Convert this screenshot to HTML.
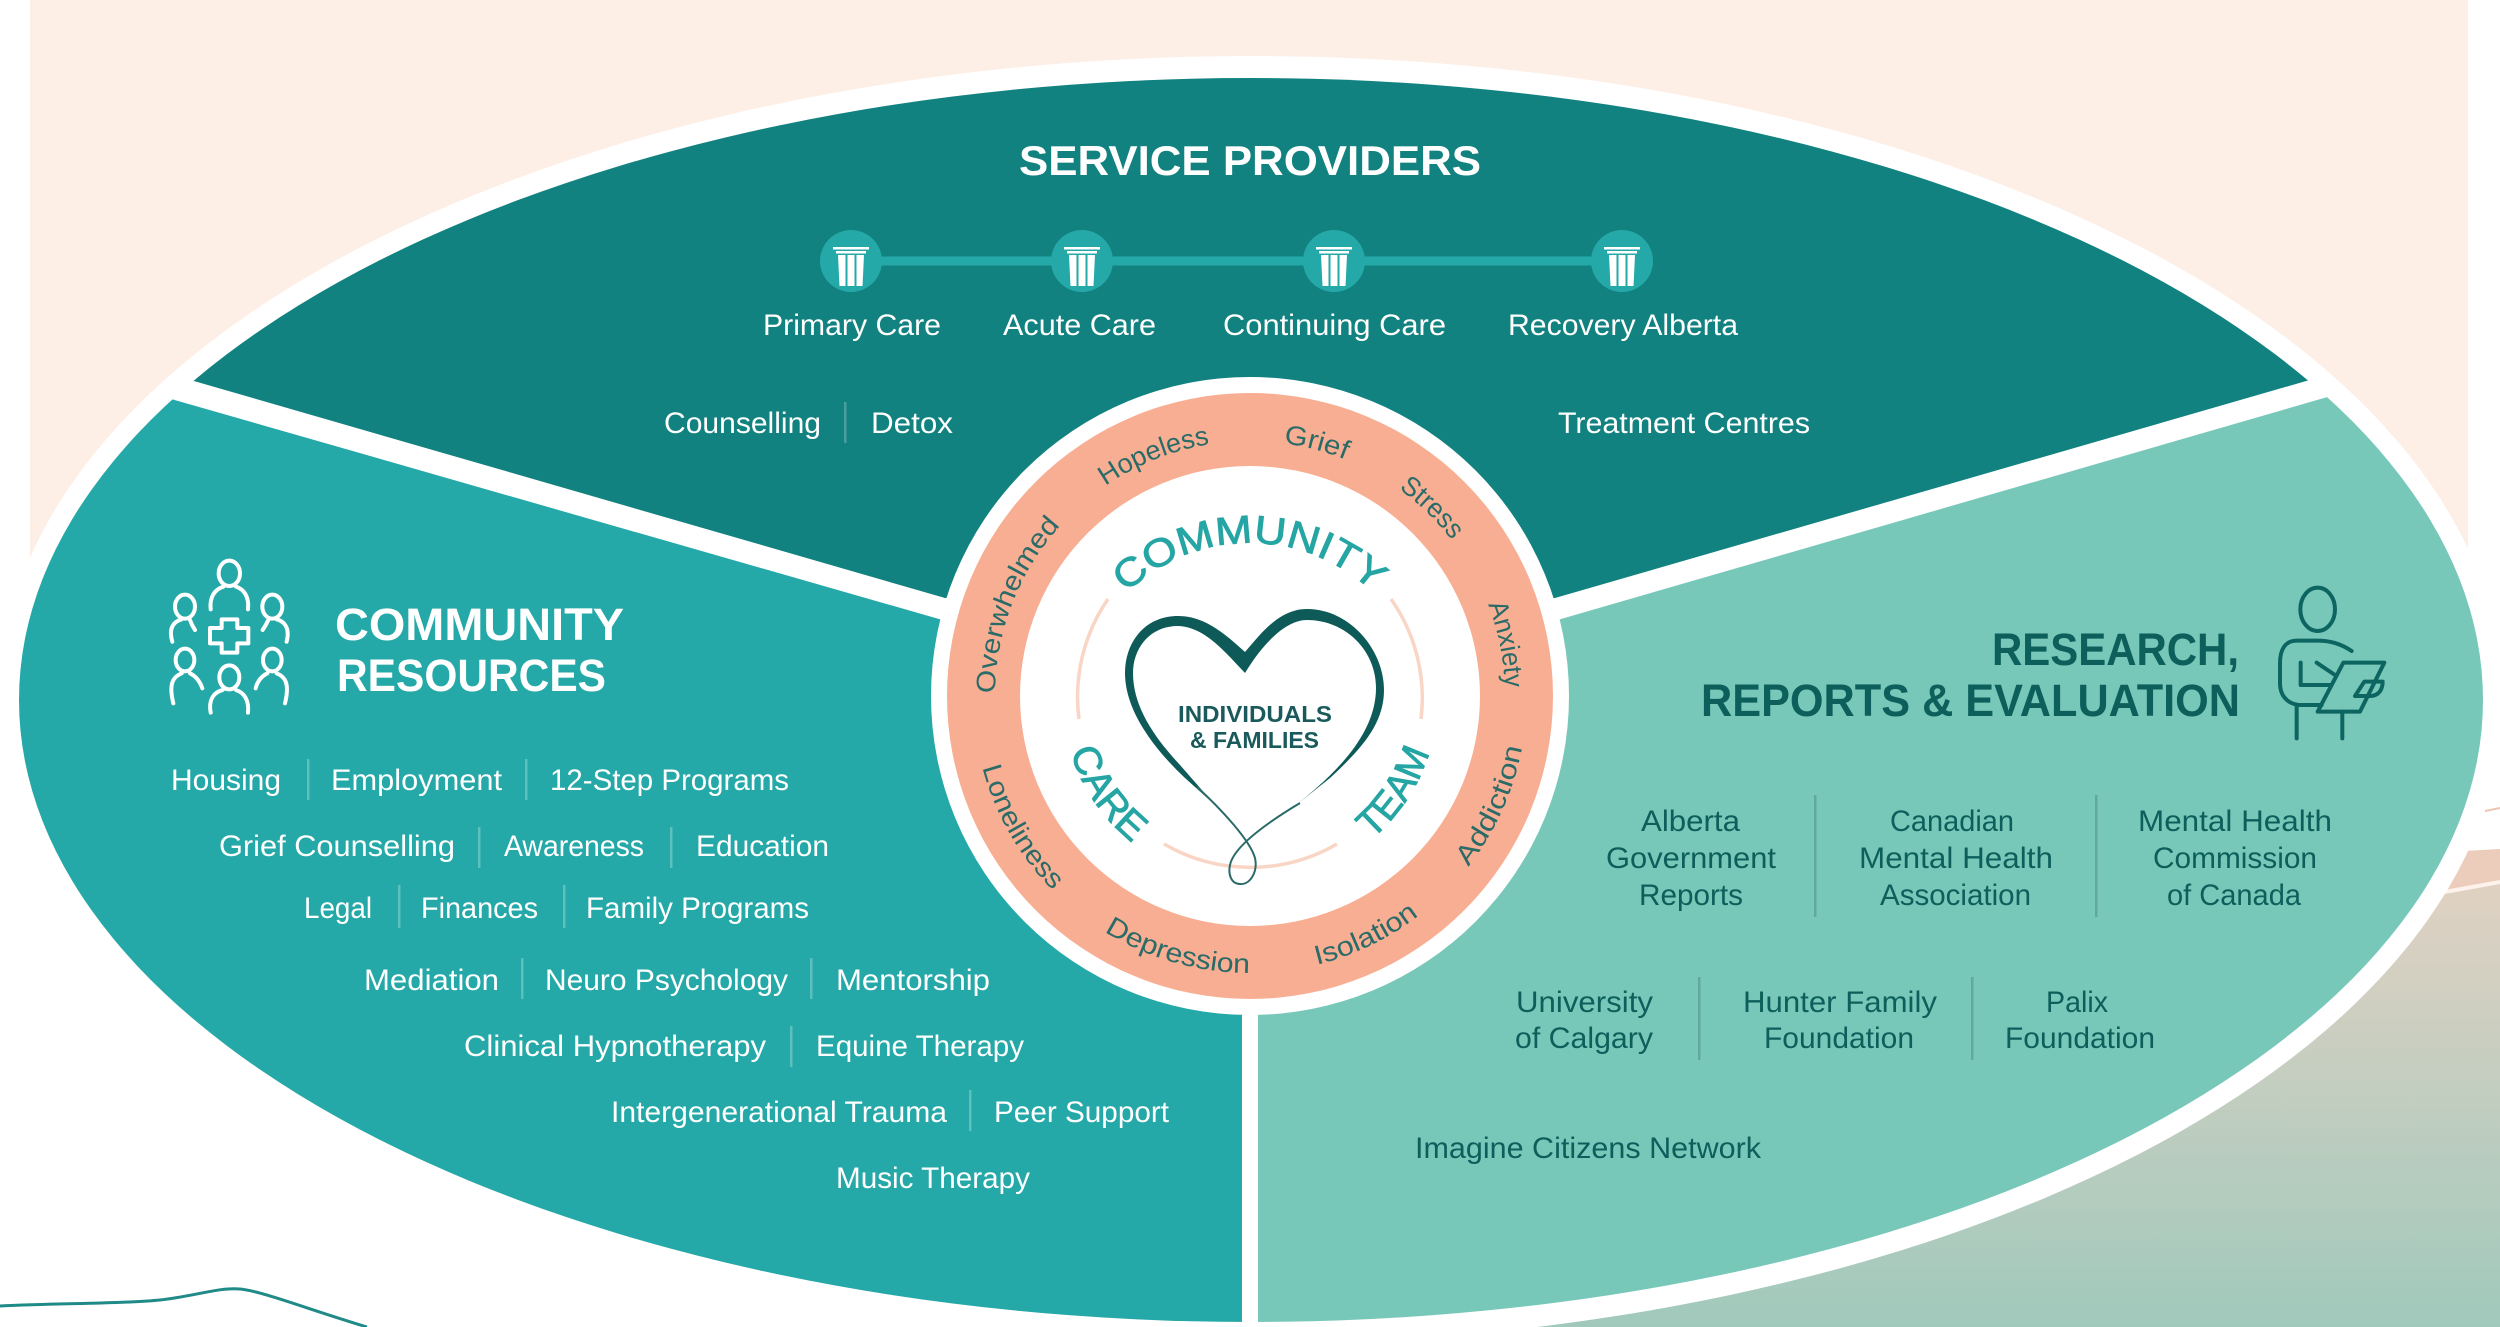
<!DOCTYPE html>
<html>
<head>
<meta charset="utf-8">
<title>Community Care Team</title>
<style>
html,body{margin:0;padding:0;background:#fff}
svg{display:block}
text{font-family:"Liberation Sans",sans-serif}
.w{fill:#fff;font-size:30px}
.d{fill:#0c5f5a;font-size:30px}
.r{fill:#2a6b68;font-size:27px}
.t{fill:#25a5a3;stroke:#25a5a3;stroke-width:0.9px}
</style>
</head>
<body>
<svg width="2500" height="1327" viewBox="0 0 2500 1327" xmlns="http://www.w3.org/2000/svg">
<defs>
<linearGradient id="bg" x1="0" y1="850" x2="0" y2="1327" gradientUnits="userSpaceOnUse">
<stop offset="0" stop-color="#e5d2c3"/><stop offset="1" stop-color="#a0c9bc"/>
</linearGradient>
<clipPath id="el"><ellipse cx="1251" cy="700" rx="1232" ry="622"/></clipPath>
<path id="cw255" d="M1250,441 A255,255 0 1 1 1249.9,441"/>
<path id="ccw277" d="M1250,973 A277,277 0 1 0 1249.9,973"/>
<path id="ccw188" d="M1250,884 A188,188 0 1 0 1249.9,884"/>
<path id="cw178" d="M1250,543 A178,178 0 1 1 1249.9,543"/>
</defs>

<rect width="2500" height="1327" fill="#fff"/>
<rect x="30" y="0" width="2438" height="700" fill="#fdeee6"/>
<path d="M2300,860 L2500,849 V884 L2300,920 Z" fill="#ecccba"/>
<path d="M1258,1000 L2300,920 L2500,882 V1327 H1258 Z" fill="url(#bg)"/>
<path d="M2400,900 L2500,882" stroke="#fdf3ec" stroke-width="4" fill="none"/>
<path d="M2485,811 L2500,808" stroke="#eec4b2" stroke-width="2" fill="none"/>
<path d="M0,1306 C60,1303 120,1304 160,1300 C195,1296 220,1287 240,1289 C262,1291 310,1310 367,1327" stroke="#1f8a87" stroke-width="3" fill="none"/>

<ellipse cx="1251" cy="700" rx="1252" ry="644" fill="#fff"/>
<g clip-path="url(#el)">
<path d="M945,598 L0,325 V0 H2500 V325 L1555,598 Z" fill="#128280"/>
<path d="M939,619 L0,350 V1327 H1242 V700 Z" fill="#25a9a8"/>
<path d="M1561,619 L2500,347 V1327 H1258 V700 Z" fill="#78c8ba"/>
</g>

<circle cx="1250" cy="696" r="319" fill="#fff"/>
<circle cx="1250" cy="696" r="303" fill="#f8ae92"/>
<circle cx="1250" cy="696" r="230" fill="#fff"/>

<!-- ring words -->
<text class="r" transform="rotate(-89.4 1250 696)"><textPath href="#cw255" textLength="184" lengthAdjust="spacingAndGlyphs">Overwhelmed</textPath></text>
<text class="r" transform="rotate(-34.5 1250 696)"><textPath href="#cw255" textLength="113" lengthAdjust="spacingAndGlyphs">Hopeless</textPath></text>
<text class="r" transform="rotate(7.6 1250 696)"><textPath href="#cw255" textLength="64" lengthAdjust="spacingAndGlyphs">Grief</textPath></text>
<text class="r" transform="rotate(35.7 1250 696)"><textPath href="#cw255" textLength="74" lengthAdjust="spacingAndGlyphs">Stress</textPath></text>
<text class="r" transform="rotate(69 1250 696)"><textPath href="#cw255" textLength="85" lengthAdjust="spacingAndGlyphs">Anxiety</textPath></text>
<text class="r" transform="rotate(-52 1250 696)"><textPath href="#ccw277" textLength="132" lengthAdjust="spacingAndGlyphs">Addiction</textPath></text>
<text class="r" transform="rotate(-14 1250 696)"><textPath href="#ccw277" textLength="114" lengthAdjust="spacingAndGlyphs">Isolation</textPath></text>
<text class="r" transform="rotate(31.7 1250 696)"><textPath href="#ccw277" textLength="153" lengthAdjust="spacingAndGlyphs">Depression</textPath></text>
<text class="r" transform="rotate(75 1250 696)"><textPath href="#ccw277" textLength="143" lengthAdjust="spacingAndGlyphs">Loneliness</textPath></text>

<!-- inner arcs -->
<g fill="none" stroke="#f9d5c6" stroke-width="3.5">
<path d="M1108,599 A172,172 0 0 0 1079,719"/>
<path d="M1391,599 A172,172 0 0 1 1421,719"/>
<path d="M1164,844 A172,172 0 0 0 1337,844"/>
</g>

<!-- teal curved words -->
<text class="t" font-size="39" transform="rotate(-44 1250 721)"><textPath href="#cw178" textLength="272" lengthAdjust="spacingAndGlyphs">COMMUNITY</textPath></text>
<text class="t" font-size="39" transform="rotate(72.8 1250 696)"><textPath href="#ccw188" textLength="112" lengthAdjust="spacingAndGlyphs">CARE</textPath></text>
<text class="t" font-size="39" transform="rotate(-40.5 1250 696)"><textPath href="#ccw188" textLength="105" lengthAdjust="spacingAndGlyphs">TEAM</textPath></text>

<!-- heart -->
<path d="M1245,673 L1245,652 C1225,634 1205,616 1178,616 C1145,616 1125,642 1125,673 C1125,708 1150,745 1185,778 L1215,805 L1180,765 C1152,735 1133,705 1133,673 C1133,648 1150,626 1178,626 C1205,627 1225,652 1245,673 Z" fill="#0e5a58"/>
<path d="M1245,673 L1245,652 C1262,632 1280,609 1307,609 C1350,609 1384,650 1384,690 C1384,725 1360,750 1330,778 L1290,810 C1325,782 1376,740 1376,688 C1376,650 1345,620 1307,620 C1285,620 1262,645 1245,673 Z" fill="#0e5a58"/>
<path d="M1197,787 C1220,808 1250,840 1255,858 C1258,872 1250,885 1240,884 C1231,884 1228,874 1230,865 C1233,850 1255,830 1300,803" fill="none" stroke="#2a6b69" stroke-width="2"/>
<text x="1178" y="722" font-size="23" font-weight="700" fill="#1a5a5c" textLength="154" lengthAdjust="spacingAndGlyphs">INDIVIDUALS</text>
<text x="1190" y="748" font-size="23" font-weight="700" fill="#1a5a5c" textLength="129" lengthAdjust="spacingAndGlyphs">&amp; FAMILIES</text>

<!-- service providers -->
<text x="1019" y="175" font-size="42" font-weight="700" fill="#fff" textLength="462" lengthAdjust="spacingAndGlyphs">SERVICE PROVIDERS</text>
<rect x="851" y="256.5" width="771" height="9" fill="#25a9a8"/>
<g transform="translate(851 261)">
<circle r="31" fill="#25a9a8"/>
<g fill="#fff"><rect x="-18" y="-14" width="36" height="2.5"/><rect x="-15" y="-10" width="30" height="2.5"/><path d="M-13,-6 H-5.5 V25 H-11.5 Z"/><rect x="-3.5" y="-6" width="7" height="31"/><path d="M5.5,-6 H13 L11.5,25 H5.5 Z"/></g>
</g>
<g transform="translate(1082 261)">
<circle r="31" fill="#25a9a8"/>
<g fill="#fff"><rect x="-18" y="-14" width="36" height="2.5"/><rect x="-15" y="-10" width="30" height="2.5"/><path d="M-13,-6 H-5.5 V25 H-11.5 Z"/><rect x="-3.5" y="-6" width="7" height="31"/><path d="M5.5,-6 H13 L11.5,25 H5.5 Z"/></g>
</g>
<g transform="translate(1334 261)">
<circle r="31" fill="#25a9a8"/>
<g fill="#fff"><rect x="-18" y="-14" width="36" height="2.5"/><rect x="-15" y="-10" width="30" height="2.5"/><path d="M-13,-6 H-5.5 V25 H-11.5 Z"/><rect x="-3.5" y="-6" width="7" height="31"/><path d="M5.5,-6 H13 L11.5,25 H5.5 Z"/></g>
</g>
<g transform="translate(1622 261)">
<circle r="31" fill="#25a9a8"/>
<g fill="#fff"><rect x="-18" y="-14" width="36" height="2.5"/><rect x="-15" y="-10" width="30" height="2.5"/><path d="M-13,-6 H-5.5 V25 H-11.5 Z"/><rect x="-3.5" y="-6" width="7" height="31"/><path d="M5.5,-6 H13 L11.5,25 H5.5 Z"/></g>
</g>
<text class="w" x="763" y="335" textLength="178" lengthAdjust="spacingAndGlyphs">Primary Care</text>
<text class="w" x="1003" y="335" textLength="153" lengthAdjust="spacingAndGlyphs">Acute Care</text>
<text class="w" x="1223" y="335" textLength="223" lengthAdjust="spacingAndGlyphs">Continuing Care</text>
<text class="w" x="1508" y="335" textLength="230" lengthAdjust="spacingAndGlyphs">Recovery Alberta</text>
<text class="w" x="664" y="433" textLength="157" lengthAdjust="spacingAndGlyphs">Counselling</text>
<rect x="844" y="402" width="2.5" height="41" fill="#4a9f9c"/>
<text class="w" x="871" y="433" textLength="82" lengthAdjust="spacingAndGlyphs">Detox</text>
<text class="w" x="1558" y="433" textLength="252" lengthAdjust="spacingAndGlyphs">Treatment Centres</text>

<!-- community resources -->
<g transform="translate(140 540) scale(0.3333)" fill="none" stroke="#fff" stroke-width="12" stroke-linecap="round" stroke-linejoin="round">
<ellipse cx="268" cy="100" rx="32" ry="38"/>
<path d="M212,208 C208,170 225,148 250,140 M288,140 C312,148 328,170 324,208"/>
<ellipse cx="135" cy="200" rx="30" ry="36"/>
<path d="M97,305 C85,265 100,245 125,238 M150,240 Q155,255 165,270"/>
<ellipse cx="397" cy="200" rx="30" ry="36"/>
<path d="M440,305 C450,265 435,245 410,238 M385,240 Q378,255 368,270"/>
<ellipse cx="135" cy="360" rx="28" ry="34"/>
<path d="M100,490 C85,430 100,410 125,400 M150,400 C170,410 180,425 187,445"/>
<ellipse cx="397" cy="360" rx="28" ry="34"/>
<path d="M435,490 C450,430 435,410 410,400 M382,400 C362,410 352,425 347,445"/>
<ellipse cx="268" cy="412" rx="30" ry="36"/>
<path d="M212,518 C205,480 220,458 248,450 M288,450 C312,458 328,480 324,518"/>
<path d="M245,238 H292 V264 H325 V310 H292 V338 H245 V310 H210 V264 H245 Z"/>
</g>
<text x="335" y="640" font-size="45" font-weight="700" fill="#fff" textLength="289" lengthAdjust="spacingAndGlyphs">COMMUNITY</text>
<text x="337" y="691" font-size="45" font-weight="700" fill="#fff" textLength="269" lengthAdjust="spacingAndGlyphs">RESOURCES</text>

<g fill="#5cc0bb">
<rect x="307" y="759" width="2.5" height="41"/><rect x="525" y="759" width="2.5" height="41"/>
<rect x="478" y="827" width="2.5" height="41"/><rect x="670" y="827" width="2.5" height="41"/>
<rect x="398" y="885" width="2.5" height="43"/><rect x="563" y="885" width="2.5" height="43"/>
<rect x="521" y="958" width="2.5" height="41"/><rect x="810" y="958" width="2.5" height="41"/>
<rect x="790" y="1026" width="2.5" height="41"/>
<rect x="969" y="1090" width="2.5" height="41"/>
</g>
<text class="w" x="171" y="790" textLength="110" lengthAdjust="spacingAndGlyphs">Housing</text>
<text class="w" x="331" y="790" textLength="171" lengthAdjust="spacingAndGlyphs">Employment</text>
<text class="w" x="550" y="790" textLength="239" lengthAdjust="spacingAndGlyphs">12-Step Programs</text>
<text class="w" x="219" y="856" textLength="236" lengthAdjust="spacingAndGlyphs">Grief Counselling</text>
<text class="w" x="504" y="856" textLength="140" lengthAdjust="spacingAndGlyphs">Awareness</text>
<text class="w" x="696" y="856" textLength="133" lengthAdjust="spacingAndGlyphs">Education</text>
<text class="w" x="304" y="918" textLength="68" lengthAdjust="spacingAndGlyphs">Legal</text>
<text class="w" x="421" y="918" textLength="117" lengthAdjust="spacingAndGlyphs">Finances</text>
<text class="w" x="586" y="918" textLength="223" lengthAdjust="spacingAndGlyphs">Family Programs</text>
<text class="w" x="364" y="990" textLength="135" lengthAdjust="spacingAndGlyphs">Mediation</text>
<text class="w" x="545" y="990" textLength="243" lengthAdjust="spacingAndGlyphs">Neuro Psychology</text>
<text class="w" x="836" y="990" textLength="154" lengthAdjust="spacingAndGlyphs">Mentorship</text>
<text class="w" x="464" y="1056" textLength="302" lengthAdjust="spacingAndGlyphs">Clinical Hypnotherapy</text>
<text class="w" x="816" y="1056" textLength="208" lengthAdjust="spacingAndGlyphs">Equine Therapy</text>
<text class="w" x="611" y="1122" textLength="336" lengthAdjust="spacingAndGlyphs">Intergenerational Trauma</text>
<text class="w" x="994" y="1122" textLength="175" lengthAdjust="spacingAndGlyphs">Peer Support</text>
<text class="w" x="836" y="1188" textLength="194" lengthAdjust="spacingAndGlyphs">Music Therapy</text>

<!-- research -->
<text x="1992" y="665" font-size="45" font-weight="700" fill="#0c5f5a" textLength="247" lengthAdjust="spacingAndGlyphs">RESEARCH,</text>
<text x="1701" y="716" font-size="45" font-weight="700" fill="#0c5f5a" textLength="539" lengthAdjust="spacingAndGlyphs">REPORTS &amp; EVALUATION</text>
<g transform="translate(2250 570) scale(0.3333)" fill="none" stroke="#0c6561" stroke-width="12" stroke-linecap="round" stroke-linejoin="round">
<ellipse cx="203" cy="118" rx="52" ry="65"/>
<path d="M305,243 C270,220 240,212 200,212 H140 C105,212 90,240 90,280 V340 C90,375 110,400 145,405 H215"/>
<path d="M152,278 V345 H240 M200,278 L255,315"/>
<path d="M280,278 H403 L330,425 H203 Z"/>
<path d="M343,335 H398 C398,360 385,378 360,378 H315 Z"/>
<path d="M140,405 V505 M277,425 V505"/>
</g>

<g fill="#5fa9a0">
<rect x="1814" y="795" width="2.5" height="122"/><rect x="2095" y="795" width="2.5" height="122"/>
<rect x="1698" y="977" width="2.5" height="83"/><rect x="1971" y="977" width="2.5" height="83"/>
</g>
<text class="d" x="1641" y="831" textLength="99" lengthAdjust="spacingAndGlyphs">Alberta</text>
<text class="d" x="1606" y="868" textLength="170" lengthAdjust="spacingAndGlyphs">Government</text>
<text class="d" x="1639" y="905" textLength="104" lengthAdjust="spacingAndGlyphs">Reports</text>
<text class="d" x="1890" y="831" textLength="124" lengthAdjust="spacingAndGlyphs">Canadian</text>
<text class="d" x="1859" y="868" textLength="194" lengthAdjust="spacingAndGlyphs">Mental Health</text>
<text class="d" x="1880" y="905" textLength="151" lengthAdjust="spacingAndGlyphs">Association</text>
<text class="d" x="2138" y="831" textLength="194" lengthAdjust="spacingAndGlyphs">Mental Health</text>
<text class="d" x="2153" y="868" textLength="164" lengthAdjust="spacingAndGlyphs">Commission</text>
<text class="d" x="2167" y="905" textLength="134" lengthAdjust="spacingAndGlyphs">of Canada</text>
<text class="d" x="1516" y="1012" textLength="137" lengthAdjust="spacingAndGlyphs">University</text>
<text class="d" x="1515" y="1048" textLength="138" lengthAdjust="spacingAndGlyphs">of Calgary</text>
<text class="d" x="1743" y="1012" textLength="194" lengthAdjust="spacingAndGlyphs">Hunter Family</text>
<text class="d" x="1764" y="1048" textLength="150" lengthAdjust="spacingAndGlyphs">Foundation</text>
<text class="d" x="2046" y="1012" textLength="62" lengthAdjust="spacingAndGlyphs">Palix</text>
<text class="d" x="2005" y="1048" textLength="150" lengthAdjust="spacingAndGlyphs">Foundation</text>
<text class="d" x="1415" y="1158" textLength="346" lengthAdjust="spacingAndGlyphs">Imagine Citizens Network</text>
</svg>
</body>
</html>
